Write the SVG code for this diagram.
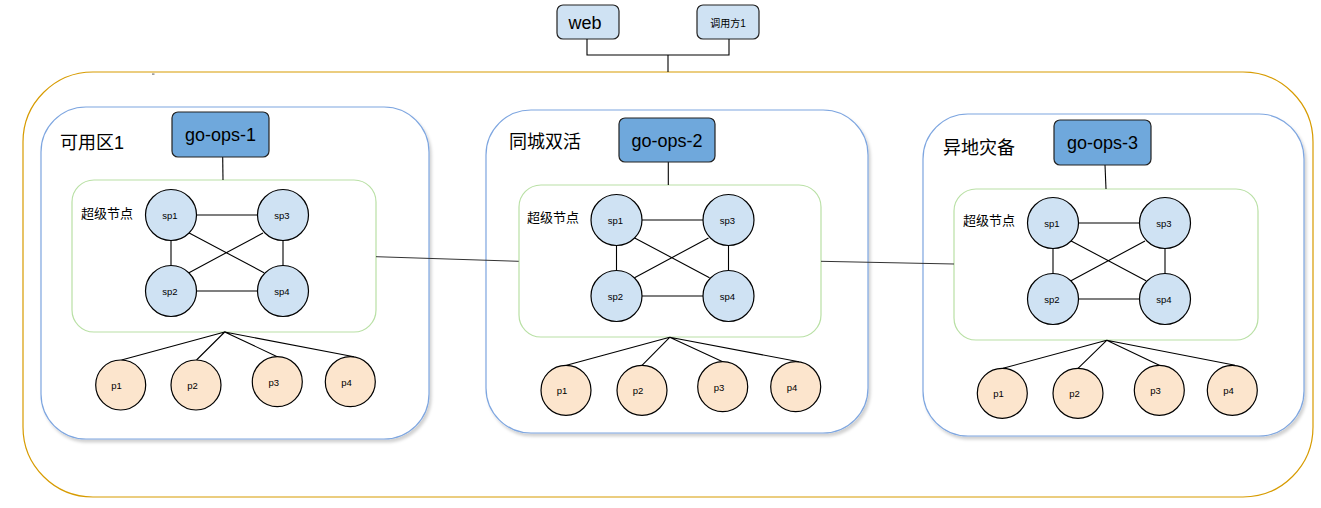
<svg xmlns="http://www.w3.org/2000/svg" width="1321" height="508" viewBox="0 0 1321 508">
<defs>
<filter id="sh" x="-5%" y="-5%" width="110%" height="115%">
<feDropShadow dx="2" dy="3" stdDeviation="1.5" flood-color="#000" flood-opacity="0.18"/>
</filter>
</defs>
<style>
text{font-family:"Liberation Sans","Noto Sans CJK SC",sans-serif;fill:#000}
.outer{fill:#fff;stroke:#d79b00;stroke-width:1.2}
.zone{fill:#fff;stroke:#7ea6e0;stroke-width:1.2;filter:url(#sh)}
.grp{fill:#fff;stroke:#b9e0a5;stroke-width:1.2}
.ops{fill:#6fa8dc;stroke:#222;stroke-width:1.2}
.top{fill:#cfe2f3;stroke:#222;stroke-width:1.2}
.sp{fill:#cfe2f3;stroke:#000;stroke-width:1.2}
.p{fill:#fce5cd;stroke:#000;stroke-width:1.2}
.ln{fill:none;stroke:#000;stroke-width:1.1}
.zl{fill:none;stroke:#333;stroke-width:1}
.zt{font-size:18px}
.gt{font-size:13px}
.ot{font-size:18px;text-anchor:middle}
.st{font-size:9.5px;text-anchor:middle}
</style>

<g id="outer">
<rect class="outer" x="23" y="72" width="1290" height="425" rx="70" ry="70"/>
<rect x="152" y="73.5" width="2.5" height="1.2" fill="#777"/>
</g>

<g id="web">
<rect class="top" x="557" y="5" width="62" height="34" rx="6"/>
<text x="585" y="29" font-size="18" text-anchor="middle">web</text>
</g>
<g id="caller1">
<rect class="top" x="697" y="5" width="62" height="34" rx="6"/>
<text x="728" y="26.5" font-size="10" text-anchor="middle">调用方1</text>
</g>

<!-- Zone 1 -->
<g id="zone1">
<rect class="zone" x="41" y="107" width="388" height="332" rx="45"/>
<text class="zt" x="60" y="149">可用区1</text>
</g>
<g id="group1">
<rect class="grp" x="72" y="180" width="304" height="152" rx="22"/>
<text class="gt" x="81" y="218">超级节点</text>
</g>

<!-- Zone 2 -->
<g id="zone2">
<rect class="zone" x="486" y="110" width="382" height="323" rx="45"/>
<text class="zt" x="509" y="148">同城双活</text>
</g>
<g id="group2">
<rect class="grp" x="519" y="185" width="302" height="152" rx="22"/>
<text class="gt" x="527" y="222">超级节点</text>
</g>

<!-- Zone 3 -->
<g id="zone3">
<rect class="zone" x="923" y="114" width="381" height="322" rx="45"/>
<text class="zt" x="943" y="154">异地灾备</text>
</g>
<g id="group3">
<rect class="grp" x="954" y="189" width="304" height="151" rx="22"/>
<text class="gt" x="963" y="225">超级节点</text>
</g>

<g id="connectors">
<path class="ln" d="M587 39V55H729V39M668 55V72"/>
<path class="zl" d="M376 256.7L518.7 261.3"/>
<path class="zl" d="M821 261.3L954 264"/>
<!-- zone1 -->
<path class="ln" d="M222.7 157L223 180"/>
<path class="ln" d="M196 215H258M171 240V266M283 240V266M196 291H258M188.7 232.7L264 272.7M263 233L189 272.7"/>
<path class="ln" d="M224.7 332L121.5 360M224.7 332L196.5 360M224.7 332L277.3 356.7M224.7 332L354 356.7"/>
<!-- zone2 -->
<path class="ln" d="M668.3 162L668.3 185"/>
<path class="ln" d="M641.5 220H703.5M616.5 245V271M728.5 245V271M641.5 296H703.5M634.2 237.7L709.5 277.7M708.5 238L634.5 277.7"/>
<path class="ln" d="M669.7 337.3L566.5 365.3M669.7 337.3L642 365.3M669.7 337.3L722.7 361.7M669.7 337.3L799 361.7"/>
<!-- zone3 -->
<path class="ln" d="M1105 165L1106 189"/>
<path class="ln" d="M1078 223H1140M1053 248V274M1165 248V274M1078 299H1140M1070.7 240.7L1146 280.7M1145 241L1071 280.7"/>
<path class="ln" d="M1106.7 340.3L1003 368.3M1106.7 340.3L1078 368.3M1106.7 340.3L1159.3 365.3M1106.7 340.3L1235 365.3"/>
</g>

<!-- ops nodes -->
<g id="go-ops-1">
<rect class="ops" x="172" y="112" width="97" height="45" rx="6"/>
<text class="ot" x="220.5" y="141">go-ops-1</text>
</g>
<g id="go-ops-2">
<rect class="ops" x="619" y="118" width="96" height="44" rx="6"/>
<text class="ot" x="667" y="146.5">go-ops-2</text>
</g>
<g id="go-ops-3">
<rect class="ops" x="1054" y="120" width="97" height="45" rx="6"/>
<text class="ot" x="1102.5" y="149">go-ops-3</text>
</g>

<!-- zone1 sp -->
<g id="z1-sp1"><circle class="sp" cx="171" cy="215" r="25.5"/><text class="st" x="170" y="218.5">sp1</text></g>
<g id="z1-sp3"><circle class="sp" cx="283" cy="215" r="25.5"/><text class="st" x="282" y="218.5">sp3</text></g>
<g id="z1-sp2"><circle class="sp" cx="171" cy="291" r="25.5"/><text class="st" x="170" y="294.5">sp2</text></g>
<g id="z1-sp4"><circle class="sp" cx="283" cy="291" r="25.5"/><text class="st" x="282" y="294.5">sp4</text></g>
<g id="z1-p1"><circle class="p" cx="120.7" cy="385" r="25"/><text class="st" x="116.5" y="389">p1</text></g>
<g id="z1-p2"><circle class="p" cx="196" cy="385" r="25"/><text class="st" x="192.5" y="389">p2</text></g>
<g id="z1-p3"><circle class="p" cx="277.3" cy="381.7" r="25"/><text class="st" x="273.7" y="385.5">p3</text></g>
<g id="z1-p4"><circle class="p" cx="350.3" cy="381.7" r="25"/><text class="st" x="346.5" y="385.5">p4</text></g>

<!-- zone2 sp -->
<g id="z2-sp1"><circle class="sp" cx="616.5" cy="220" r="25.5"/><text class="st" x="615.5" y="223.5">sp1</text></g>
<g id="z2-sp3"><circle class="sp" cx="728.5" cy="220" r="25.5"/><text class="st" x="727.5" y="223.5">sp3</text></g>
<g id="z2-sp2"><circle class="sp" cx="616.5" cy="296" r="25.5"/><text class="st" x="615.5" y="299.5">sp2</text></g>
<g id="z2-sp4"><circle class="sp" cx="728.5" cy="296" r="25.5"/><text class="st" x="727.5" y="299.5">sp4</text></g>
<g id="z2-p1"><circle class="p" cx="566" cy="390.3" r="25"/><text class="st" x="562" y="394.3">p1</text></g>
<g id="z2-p2"><circle class="p" cx="642" cy="390.3" r="25"/><text class="st" x="638" y="394.3">p2</text></g>
<g id="z2-p3"><circle class="p" cx="722.7" cy="386.7" r="25"/><text class="st" x="719" y="390.7">p3</text></g>
<g id="z2-p4"><circle class="p" cx="795.7" cy="386.7" r="25"/><text class="st" x="792" y="390.7">p4</text></g>

<!-- zone3 sp -->
<g id="z3-sp1"><circle class="sp" cx="1053" cy="223" r="25.5"/><text class="st" x="1052" y="226.5">sp1</text></g>
<g id="z3-sp3"><circle class="sp" cx="1165" cy="223" r="25.5"/><text class="st" x="1164" y="226.5">sp3</text></g>
<g id="z3-sp2"><circle class="sp" cx="1053" cy="299" r="25.5"/><text class="st" x="1052" y="302.5">sp2</text></g>
<g id="z3-sp4"><circle class="sp" cx="1165" cy="299" r="25.5"/><text class="st" x="1164" y="302.5">sp4</text></g>
<g id="z3-p1"><circle class="p" cx="1002.3" cy="393.3" r="25"/><text class="st" x="998.5" y="397.3">p1</text></g>
<g id="z3-p2"><circle class="p" cx="1078" cy="393.3" r="25"/><text class="st" x="1074.5" y="397.3">p2</text></g>
<g id="z3-p3"><circle class="p" cx="1159.3" cy="390.3" r="25"/><text class="st" x="1155.5" y="394.3">p3</text></g>
<g id="z3-p4"><circle class="p" cx="1232.3" cy="390.3" r="25"/><text class="st" x="1228.5" y="394.3">p4</text></g>
</svg>
